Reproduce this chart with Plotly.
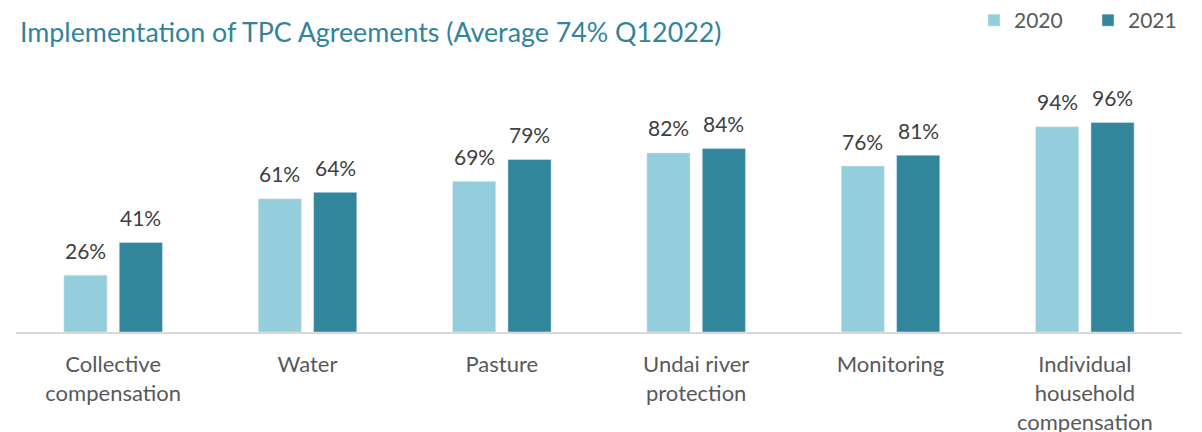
import plotly.graph_objects as go

categories = ["Collective<br>compensation", "Water", "Pasture", "Undai river<br>protection",
              "Monitoring", "Individual<br>household<br>compensation"]
values_2020 = [0.26, 0.61, 0.69, 0.82, 0.76, 0.94]
values_2021 = [0.41, 0.64, 0.79, 0.84, 0.81, 0.96]
series_names = ["2020", "2021"]
colors = ["#94CDDC", "#31869C"]

FONT = "Lato"
BARGAP, GROUPGAP = 0.43, 0.22
PLOT_W = 1202 - 16 - 20
slot_px = PLOT_W / len(categories) * (1 - BARGAP) / 2

fig = go.Figure()
for name, vals, col in zip(series_names, [values_2020, values_2021], colors):
    fig.add_trace(go.Bar(x=categories, y=vals, name=name, marker_color=col,
                         hoverinfo="x+y"))

for k, vals in enumerate([values_2020, values_2021]):
    shift = (k - 0.5) * slot_px
    for c, v in zip(categories, vals):
        fig.add_annotation(x=c, y=v, xref="x", yref="y", text=f"{v:.0%}",
                           showarrow=False, xshift=shift, yshift=25,
                           yanchor="middle",
                           font=dict(size=21, color="#404040", family=FONT))

fig.update_layout(
    width=1202, height=432,
    margin=dict(l=16, r=20, t=70, b=100),
    paper_bgcolor="white", plot_bgcolor="white",
    barmode="group", bargap=BARGAP, bargroupgap=GROUPGAP,
    title=dict(text="Implementation of TPC Agreements (Average 74% Q12022)",
               x=0, xref="paper", xanchor="left", y=0.925, yanchor="middle",
               font=dict(size=26.8, color="#31849B", family=FONT), pad=dict(l=4)),
    legend=dict(orientation="h", x=0.827, xanchor="left", y=1.0, yref="container",
                yanchor="top", font=dict(size=21, color="#595959", family=FONT),
                entrywidth=69, traceorder="normal"),
    showlegend=True,
    xaxis=dict(showline=True, linecolor="#D9D9D9", linewidth=2, ticks="",
               ticklabelstandoff=12, automargin=False,
               tickfont=dict(size=22, color="#595959", family=FONT)),
    yaxis=dict(visible=False, range=[0, 1.2], automargin=False),
)
fig.write_html("out.html")
